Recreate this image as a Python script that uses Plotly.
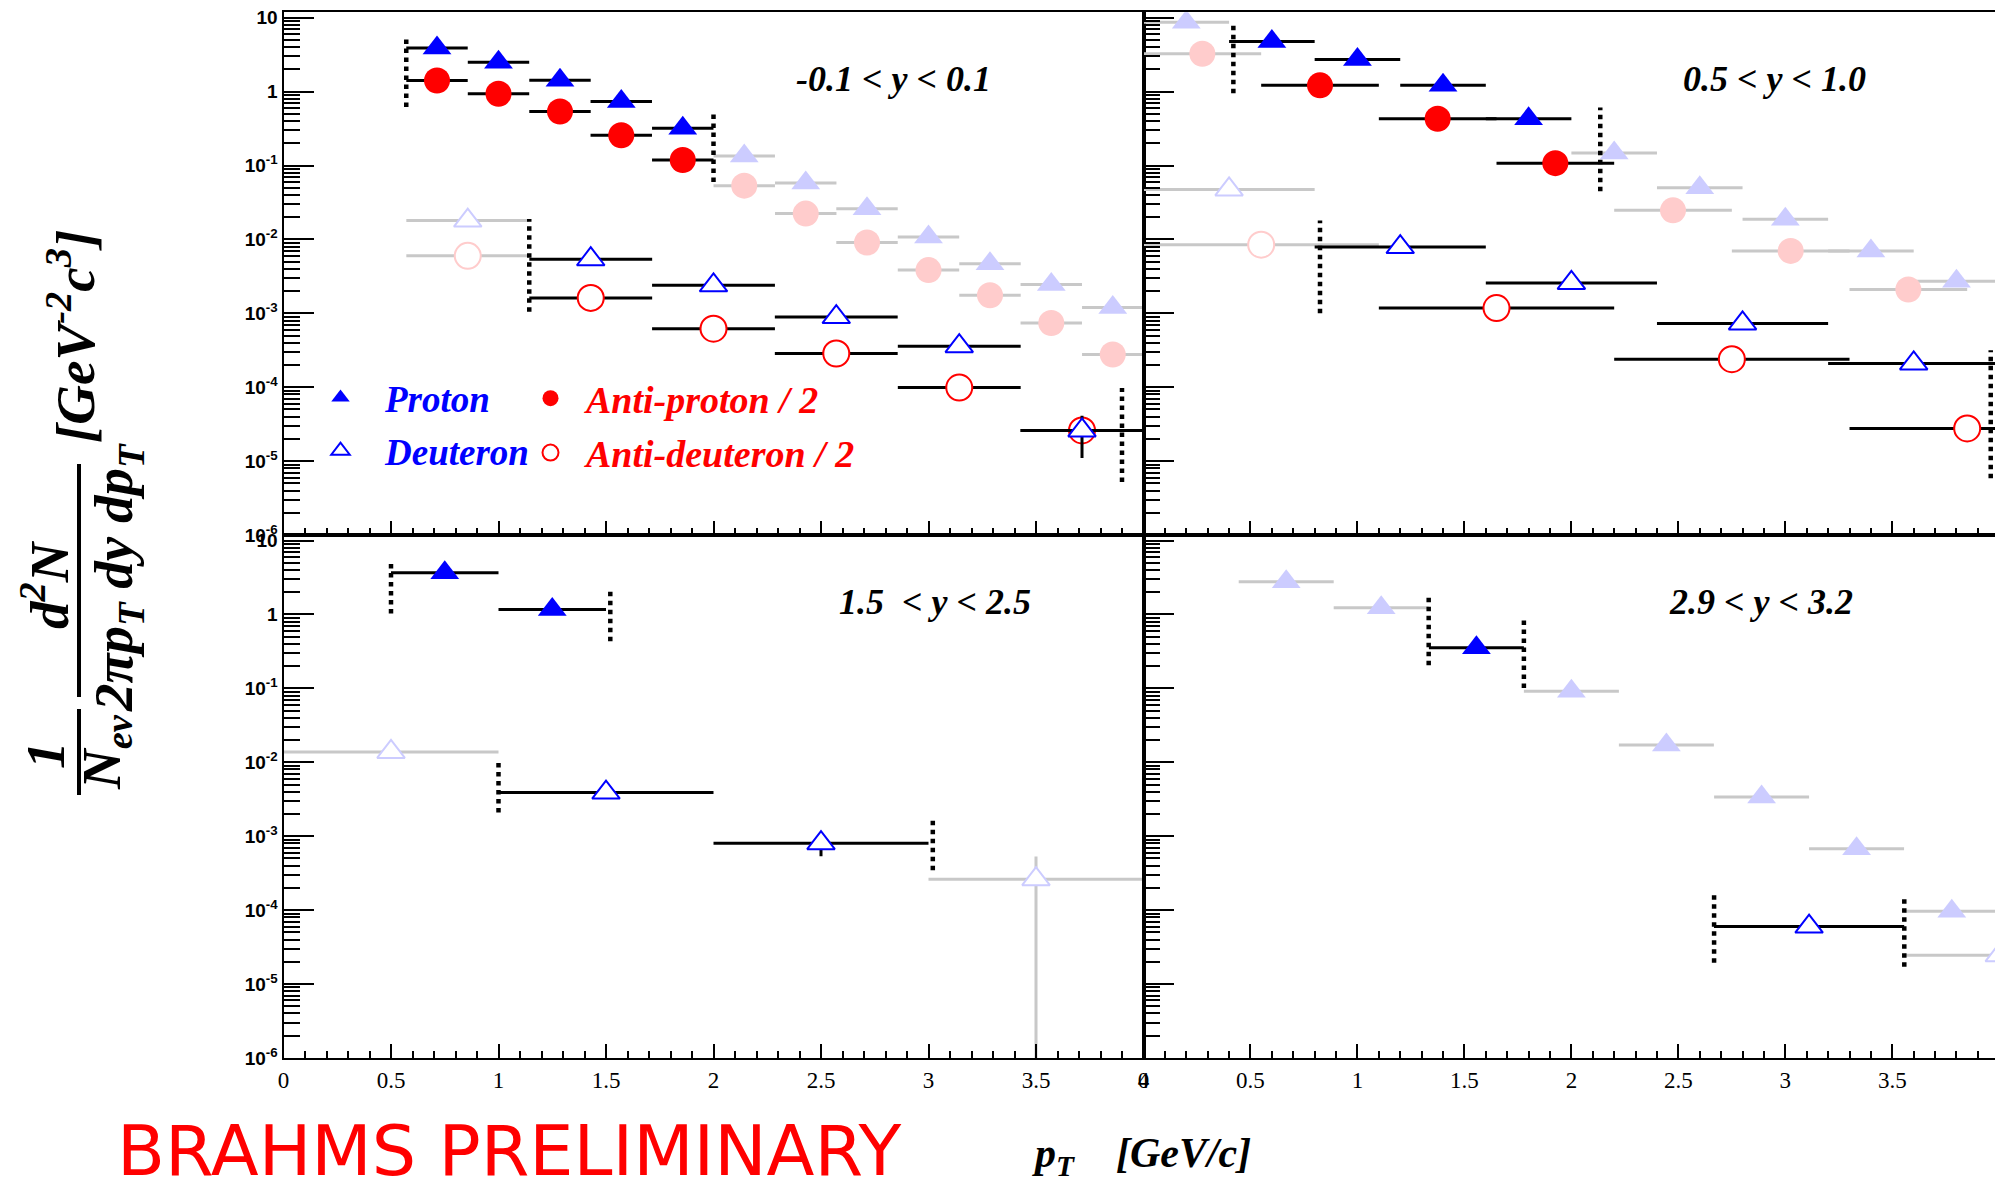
import plotly.graph_objects as go

W, H = 1995, 1186

# ---------------- data ----------------
# Panel A : -0.1 < y < 0.1
A_P_X = [0.714, 1.0, 1.286, 1.571, 1.857, 2.143, 2.429, 2.714, 3.0, 3.286, 3.571, 3.857]
A_P_Y = [3.9, 2.5, 1.43, 0.74, 0.32, 0.135, 0.058, 0.026, 0.0108, 4.7e-3, 2.45e-3, 1.2e-3]
A_P_IN = [1, 1, 1, 1, 1, 0, 0, 0, 0, 0, 0, 0]
A_P_BW = 0.2857
A_PB_Y = [1.42, 0.94, 0.54, 0.257, 0.119, 0.0535, 0.0224, 9.1e-3, 3.85e-3, 1.76e-3, 7.4e-4, 2.77e-4]
A_D_X = [0.857, 1.429, 2.0, 2.571, 3.143, 3.714]
A_D_Y = [0.018, 5.4e-3, 2.4e-3, 8.9e-4, 3.6e-4, 2.6e-5]
A_D_EY = [0, 0, 0, 0, 0, 1.5e-5]
A_D_IN = [0, 1, 1, 1, 1, 1]
A_D_BW = 0.5714
A_DB_Y = [6.0e-3, 1.62e-3, 6.2e-4, 2.86e-4, 9.9e-5, 2.6e-5]
A_CUT_X = [0.571, 2.0, 1.143, 3.9]
A_CUT_LO = [0.62, 0.06, 1.05e-3, 5.2e-6]
A_CUT_HI = [5.5, 0.53, 0.019, 9.8e-5]

# Panel B : 0.5 < y < 1.0
B_P_X = [0.2, 0.6, 1.0, 1.4, 1.8, 2.2, 2.6, 3.0, 3.4, 3.8]
B_P_Y = [8.7, 4.8, 2.73, 1.22, 0.43, 0.148, 0.050, 0.0188, 7.0e-3, 2.72e-3]
B_P_IN = [0, 1, 1, 1, 1, 0, 0, 0, 0, 0]
B_P_BW = 0.4
B_PB_X = [0.275, 0.825, 1.375, 1.925, 2.475, 3.025, 3.575]
B_PB_Y = [3.26, 1.22, 0.43, 0.108, 0.0248, 7.0e-3, 2.1e-3]
B_PB_IN = [0, 1, 1, 1, 0, 0, 0]
B_PB_BW = 0.55
B_D_X = [0.4, 1.2, 2.0, 2.8, 3.6]
B_D_Y = [0.0476, 7.9e-3, 2.58e-3, 7.3e-4, 2.1e-4]
B_D_IN = [0, 1, 1, 1, 1]
B_D_BW = 0.8
B_DB_X = [0.55, 1.65, 2.75, 3.85]
B_DB_Y = [8.5e-3, 1.18e-3, 2.4e-4, 2.77e-5]
B_DB_IN = [0, 1, 1, 1]
B_DB_BW = 1.1
B_CUT_X = [0.42, 2.135, 0.825, 3.96]
B_CUT_LO = [0.957, 0.045, 1.0e-3, 5.85e-6]
B_CUT_HI = [8.3, 0.61, 0.018, 3.17e-4]

# Panel C : 1.5 < y < 2.5
C_P_X = [0.75, 1.25]
C_P_Y = [3.67, 1.17]
C_P_IN = [1, 1]
C_P_BW = 0.5
C_D_X = [0.5, 1.5, 2.5, 3.5]
C_D_Y = [0.0138, 3.9e-3, 8.06e-4, 2.62e-4]
C_D_EYP = [0, 0, 2.7e-4, 2.7e-4]
C_D_EYM = [0, 0, 2.7e-4, 2.6195e-4]
C_D_IN = [0, 1, 1, 0]
C_D_BW = 1.0
C_CUT_X = [0.5, 1.52, 1.0, 3.02]
C_CUT_LO = [1.03, 0.435, 2.09e-3, 3.47e-4]
C_CUT_HI = [5.56, 2.3, 0.0101, 1.82e-3]

# Panel D : 2.9 < y < 3.2
D_P_X = [0.667, 1.111, 1.556, 2.0, 2.444, 2.889, 3.333, 3.778]
D_P_Y = [2.77, 1.23, 0.354, 0.0914, 0.0171, 3.39e-3, 6.75e-4, 9.7e-5]
D_P_IN = [0, 0, 1, 0, 0, 0, 0, 0]
D_P_BW = 0.444
D_D_X = [3.111, 4.0]
D_D_Y = [6.0e-5, 2.45e-5]
D_D_IN = [1, 0]
D_D_BW = 0.889
D_CUT_X = [1.333, 1.778, 2.667, 3.556]
D_CUT_LO = [0.206, 0.1016, 1.95e-5, 1.72e-5]
D_CUT_HI = [1.77, 0.90, 1.79e-4, 1.56e-4]

PANEL_LABELS = ["-0.1 < y < 0.1", "0.5 < y < 1.0", "1.5  < y < 2.5", "2.9 < y < 3.2"]
LEGEND_NAMES = ["Proton", "Anti-proton / 2", "Deuteron", "Anti-deuteron / 2"]
X_TICKS = [0, 0.5, 1, 1.5, 2, 2.5, 3, 3.5, 4]
X_TICK_TEXT = ["0", "0.5", "1", "1.5", "2", "2.5", "3", "3.5", "4"]
Y_TICKS = [1e-6, 1e-5, 1e-4, 1e-3, 1e-2, 1e-1, 1, 10]
Y_TICK_TEXT = ["10<sup>-6</sup>", "10<sup>-5</sup>", "10<sup>-4</sup>", "10<sup>-3</sup>",
               "10<sup>-2</sup>", "10<sup>-1</sup>", "1", "10"]

# ---------------- styles ----------------
BLUE, RED = "#0000ff", "#ff0000"
FBLUE, FRED = "#ccccff", "#ffcccc"
GREY = "#c8c8c8"
SERIF = "Liberation Serif"

X_MINOR = [i / 10 for i in range(41)]
Y_MINOR = [m * 10.0 ** e for e in range(-6, 1) for m in range(2, 10)]

STYLE = {
    "p": dict(symbol="triangle-up", size=25, fill=(FBLUE, BLUE), line=(FBLUE, BLUE), lw=0),
    "pb": dict(symbol="circle", size=26, fill=(FRED, RED), line=(FRED, RED), lw=0),
    "d": dict(symbol="triangle-up", size=24, fill=("white", "white"), line=(FBLUE, BLUE), lw=2),
    "db": dict(symbol="circle", size=26, fill=("white", "white"), line=(FRED, RED), lw=2),
}

fig = go.Figure()


def add_series(xs, ys, bw, flags, xa, ya, kind, eyp=None, eym=None, legend=None, name=None):
    st = STYLE[kind]
    for inside in (0, 1):
        idx = [i for i, f in enumerate(flags) if f == inside]
        if not idx:
            continue
        bar = "black" if inside else GREY
        tr = dict(
            x=[xs[i] for i in idx], y=[ys[i] for i in idx], mode="markers",
            xaxis=xa, yaxis=ya, cliponaxis=True,
            marker=dict(symbol=st["symbol"], size=st["size"], color=st["fill"][inside],
                        line=dict(color=st["line"][inside], width=st["lw"])),
            error_x=dict(type="data", symmetric=True, array=[bw / 2] * len(idx),
                         color=bar, thickness=3, width=0),
            showlegend=False, hoverinfo="x+y",
        )
        if eyp is not None:
            tr["error_y"] = dict(type="data", symmetric=False,
                                 array=[eyp[i] for i in idx],
                                 arrayminus=[(eym or eyp)[i] for i in idx],
                                 color=bar, thickness=3, width=0)
        if inside and legend is not None:
            tr.update(showlegend=True, legend=legend, name=name, legendgroup=name)
        fig.add_trace(go.Scatter(**tr))


def add_cuts(cx, lo, hi, xa, ya):
    xs, ys = [], []
    for c, a, b in zip(cx, lo, hi):
        xs += [c, c, None]
        ys += [a, b, None]
    fig.add_trace(go.Scatter(x=xs, y=ys, mode="lines", xaxis=xa, yaxis=ya,
                             line=dict(color="black", width=4.5, dash="dot"),
                             showlegend=False, hoverinfo="skip"))


# Panel A
add_series(A_P_X, A_P_Y, A_P_BW, A_P_IN, "x", "y", "p", legend="legend", name=LEGEND_NAMES[0])
add_series(A_P_X, A_PB_Y, A_P_BW, A_P_IN, "x", "y", "pb", legend="legend2", name=LEGEND_NAMES[1])
add_series(A_D_X, A_DB_Y, A_D_BW, A_D_IN, "x", "y", "db", legend="legend2", name=LEGEND_NAMES[3])
add_series(A_D_X, A_D_Y, A_D_BW, A_D_IN, "x", "y", "d", eyp=A_D_EY, legend="legend", name=LEGEND_NAMES[2])
add_cuts(A_CUT_X, A_CUT_LO, A_CUT_HI, "x", "y")
# Panel B
add_series(B_P_X, B_P_Y, B_P_BW, B_P_IN, "x2", "y2", "p")
add_series(B_PB_X, B_PB_Y, B_PB_BW, B_PB_IN, "x2", "y2", "pb")
add_series(B_DB_X, B_DB_Y, B_DB_BW, B_DB_IN, "x2", "y2", "db")
add_series(B_D_X, B_D_Y, B_D_BW, B_D_IN, "x2", "y2", "d")
add_cuts(B_CUT_X, B_CUT_LO, B_CUT_HI, "x2", "y2")
# Panel C
add_series(C_P_X, C_P_Y, C_P_BW, C_P_IN, "x3", "y3", "p")
add_series(C_D_X, C_D_Y, C_D_BW, C_D_IN, "x3", "y3", "d", eyp=C_D_EYP, eym=C_D_EYM)
add_cuts(C_CUT_X, C_CUT_LO, C_CUT_HI, "x3", "y3")
# Panel D
add_series(D_P_X, D_P_Y, D_P_BW, D_P_IN, "x4", "y4", "p")
add_series(D_D_X, D_D_Y, D_D_BW, D_D_IN, "x4", "y4", "d")
add_cuts(D_CUT_X, D_CUT_LO, D_CUT_HI, "x4", "y4")

# ---------------- axes ----------------
XL = [283.5 / W, 1143.5 / W]
XR = [1143.5 / W, 1.0]
YT = [1 - 535 / H, 1 - 12.3 / H]
YB = [1 - 1058 / H, 1 - 535 / H]
YR = [-6, 1.075]


def xcfg(domain, rng, anchor, labels):
    return dict(domain=domain, range=rng, anchor=anchor, showline=True, linecolor="black",
                linewidth=2, mirror=True, ticks="inside", ticklen=14, tickwidth=2,
                tickcolor="black", tickmode="array", tickvals=X_TICKS, ticktext=X_TICK_TEXT,
                minor=dict(ticks="inside", ticklen=7, tickwidth=1.5, tickcolor="black",
                           tickmode="array", tickvals=X_MINOR),
                showticklabels=labels,
                tickfont=dict(family=SERIF, size=23, color="black"),
                showgrid=False, zeroline=False)


def ycfg(domain, anchor, labels, mirror):
    return dict(domain=domain, type="log", range=YR, anchor=anchor, showline=True,
                linecolor="black", linewidth=2, mirror=mirror, ticks="inside", ticklen=30,
                tickwidth=2, tickcolor="black", tickmode="array", tickvals=Y_TICKS,
                ticktext=Y_TICK_TEXT,
                minor=dict(ticks="inside", ticklen=16, tickwidth=1.5, tickcolor="black",
                           tickmode="array", tickvals=Y_MINOR),
                showticklabels=labels,
                tickfont=dict(family="Liberation Sans", size=19, color="black", weight="bold"),
                showgrid=False, zeroline=False)


BI = dict(family=SERIF, weight="bold", style="italic", color="black")


def note(text, px, py, size, angle=0, font=None):
    f = dict(font or BI)
    f["size"] = size
    return dict(text=text, x=px / W, y=1 - py / H, xref="paper", yref="paper",
                xanchor="center", yanchor="middle", showarrow=False,
                textangle=angle, font=f)


annotations = []
label_pos = [(893, 79), (1774, 79), (935, 602), (1761, 602)]
for txt, (px, py) in zip(PANEL_LABELS, label_pos):
    annotations.append(note(txt, px, py, 36))

# y title pieces (rotated)
ytitle = [
    ("[GeV<sup>-2</sup>c<sup>3</sup>]", 71, 337),
    ("d<sup>2</sup>N", 45, 585),
    ("2πp<sub>T</sub> dy dp<sub>T</sub>", 117, 578),
    ("1", 45, 755),
    ("N<sub>ev</sub>", 105, 752),
]
for txt, px, py in ytitle:
    annotations.append(note(txt, px, py, 55, angle=-90))

annotations.append(note("p<sub>T</sub>    [GeV/c]", 1141, 1156, 42))
annotations.append(note("BRAHMS PRELIMINARY", 509, 1151, 70,
                        font=dict(family="DejaVu Sans", color=RED)))

shapes = [
    dict(type="line", xref="paper", yref="paper", x0=79 / W, x1=79 / W,
         y0=1 - 464 / H, y1=1 - 697 / H, line=dict(color="black", width=4)),
    dict(type="line", xref="paper", yref="paper", x0=79 / W, x1=79 / W,
         y0=1 - 709 / H, y1=1 - 795 / H, line=dict(color="black", width=4)),
]

leg_common = dict(xanchor="left", yanchor="top", bgcolor="rgba(0,0,0,0)", borderwidth=0,
                  tracegroupgap=2, itemsizing="trace")

fig.update_layout(
    width=W, height=H, autosize=False,
    margin=dict(l=0, r=0, t=0, b=0, pad=0, autoexpand=False),
    paper_bgcolor="white", plot_bgcolor="white",
    xaxis=xcfg(XL, [0, 4], "y", False),
    yaxis=ycfg(YT, "x", True, True),
    xaxis2=xcfg(XR, [0, 3.98], "y2", False),
    yaxis2=ycfg(YT, "x2", False, False),
    xaxis3=xcfg(XL, [0, 4], "y3", True),
    yaxis3=ycfg(YB, "x3", True, True),
    xaxis4=xcfg(XR, [0, 3.98], "y4", True),
    yaxis4=ycfg(YB, "x4", False, False),
    annotations=annotations,
    shapes=shapes,
    legend=dict(leg_common, x=296 / W, y=1 - 367 / H, itemwidth=79,
                font=dict(family=SERIF, size=37, color=BLUE, weight="bold", style="italic")),
    legend2=dict(leg_common, x=515 / W, y=1 - 367 / H, itemwidth=61,
                 font=dict(family=SERIF, size=38, color=RED, weight="bold", style="italic")),
    showlegend=True,
)

fig.write_html("out.html",
               config={"displayModeBar": False},
               post_script="document.body.style.margin='0px';document.body.style.overflow='hidden';")
